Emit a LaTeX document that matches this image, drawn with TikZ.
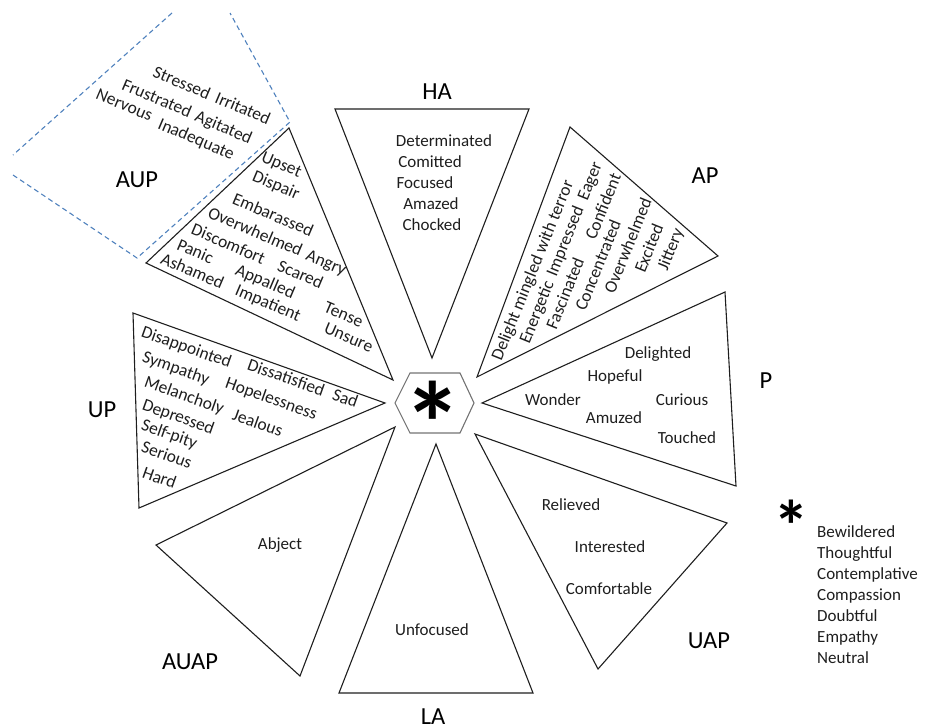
\documentclass[tikz,border=0pt]{standalone}
\usepackage{fontspec}
\setmainfont{Carlito}
\definecolor{dashblue}{RGB}{79,129,189}
\definecolor{ink}{RGB}{30,30,30}
\begin{document}
\begin{tikzpicture}[x=1pt,y=-1pt,
  tri/.style={draw=ink, line width=1.1pt, line join=miter},
  hexa/.style={draw=black!55, line width=1.1pt},
  dsh/.style={draw=dashblue, line width=1.1pt, dash pattern=on 5pt off 3.5pt},
  w/.style={font=\fontsize{17}{20}\selectfont, text=ink, inner sep=0pt, text height=11pt, text depth=0pt},
  wr/.style={font=\fontsize{17.5}{21}\selectfont, text=ink, inner sep=0pt, text height=11.3pt, text depth=0pt, anchor=west},
  lab/.style={font=\fontsize{24.5}{28}\selectfont, text=black, inner sep=0pt, text height=15.8pt, text depth=0pt},
  ww/.style={w, anchor=west},
  r1/.style={wr, rotate=-23},
  r2/.style={wr, rotate=-19.6},
  r3/.style={wr, rotate=68}]
\useasboundingbox (0,0) rectangle (927,728);

% AUP dashed region
\draw[dsh] (172,13) -- (13,155);
\draw[dsh] (13,175) -- (137,258) -- (290,122) -- (230,13);

% triangles
\draw[tri] (335,109) -- (529,109) -- (432,358) -- cycle; % HA
\draw[tri] (570,127) -- (718,256) -- (477,377) -- cycle; % AP
\draw[tri] (482,403) -- (725,292) -- (736,486) -- cycle; % P
\draw[tri] (475,434) -- (727,523) -- (598,669) -- cycle; % UAP
\draw[tri] (436,444) -- (533,693) -- (339,693) -- cycle; % LA
\draw[tri] (395,427) -- (156,545) -- (300,676) -- cycle; % AUAP
\draw[tri] (133,313) -- (385,403) -- (139,508) -- cycle; % UP
\draw[tri] (289,128) -- (393,380) -- (146,263) -- cycle; % AUP

% hexagon
\draw[hexa] (395,403) -- (410,373) -- (460,373) -- (474,403) -- (460,433) -- (410,433) -- cycle;
\node[inner sep=0pt, anchor=north, font=\fontsize{118}{118}\selectfont\bfseries] (star) at (432.5,381) {*};

% labels
\node[lab] (ha) at (437,92) {HA};
\node[lab] (ap) at (705,176) {AP};
\node[lab] (p) at (766,381) {P};
\node[lab] (uap) at (709,641) {UAP};
\node[lab] (la) at (433,717) {LA};
\node[lab] (auap) at (190,662) {AUAP};
\node[lab] (up) at (102,410) {UP};
\node[lab] (aup) at (137,180) {AUP};

% HA words
\node[w] (ha1) at (444,141) {Determinated};
\node[w] (ha2) at (430,162) {Comitted};
\node[w] (ha3) at (425,183) {Focused};
\node[w] (ha4) at (431,204) {Amazed};
\node[w] (ha5) at (432,225) {Chocked};

% AP words
\node[r3] (ap1) at (496,360) {Delight mingled with terror};
\node[r3] (ap2) at (524,343) {Energetic};
\node[r3] (ap3) at (551,275.5) {Impressed};
\node[r3] (ap4) at (582,199.5) {Eager};
\node[r3] (ap5) at (551,328.5) {Fascinated};
\node[r3] (ap6) at (590,239) {Confident};
\node[r3] (ap7) at (580,310) {Concentrated};
\node[r3] (ap8) at (609,292.5) {Overwhelmed};
\node[r3] (ap9) at (639.5,272) {Excited};
\node[r3] (ap10) at (662,269.5) {Jittery};

% P words
\node[w] (p1) at (658,353) {Delighted};
\node[w] (p2) at (615,376) {Hopeful};
\node[w] (p3) at (553,400) {Wonder};
\node[w] (p4) at (682,400) {Curious};
\node[w] (p5) at (614,418) {Amuzed};
\node[w] (p6) at (687,438) {Touched};

% UAP words
\node[w] (u1) at (571,505) {Relieved};
\node[w] (u2) at (610,547) {Interested};
\node[w] (u3) at (609,589) {Comfortable};

% LA, AUAP
\node[w] (la1) at (432,630) {Unfocused};
\node[w] (auap1) at (280,544) {Abject};

% UP words
\node[r2] (up1) at (142,331) {Disappointed};
\node[r2] (up2) at (248,364) {Dissatisfied};
\node[r2] (up3) at (333,394) {Sad};
\node[r2] (up4) at (143,356) {Sympathy};
\node[r2] (up5) at (226,382) {Hopelessness};
\node[r2] (up6) at (145,381) {Melancholy};
\node[r2] (up7) at (233,414) {Jealous};
\node[r2] (up8) at (143,404) {Depressed};
\node[r2] (up9) at (142,424) {Self-pity};
\node[r2] (up10) at (142,446) {Serious};
\node[r2] (up11) at (143,472) {Hard};

% AUP triangle words
\node[r1] (a1) at (262.4,156) {Upset};
\node[r1] (a2) at (253.4,175) {Dispair};
\node[r1] (a3) at (233.3,198) {Embarassed};
\node[r1] (a4) at (208.9,212) {Overwhelmed};
\node[r1] (a5) at (307,254) {Angry};
\node[r1] (a6) at (192.2,228.5) {Discomfort};
\node[r1] (a7) at (278.5,265) {Scared};
\node[r1] (a8) at (177.8,244) {Panic};
\node[r1] (a9) at (236.3,269) {Appalled};
\node[r1] (a10) at (324.9,306.5) {Tense};
\node[r1] (a11) at (161.6,257.8) {Ashamed};
\node[r1] (a12) at (236.1,289.5) {Impatient};
\node[r1] (a13) at (325.1,327.2) {Unsure};

% AUP dashed words
\node[r1] (d1) at (154,71) {Stressed};
\node[r1] (d2) at (216,97) {Irritated};
\node[r1] (d3) at (123,84) {Frustrated};
\node[r1] (d4) at (196,115.5) {Agitated};
\node[r1] (d5) at (97,93) {Nervous};
\node[r1] (d6) at (159,123) {Inadequate};

% legend
\node[inner sep=0pt, anchor=north, font=\fontsize{72}{72}\selectfont\bfseries] (lstar) at (791,500) {*};
\node[ww] (l1) at (817,532) {Bewildered};
\node[ww] (l2) at (817,553) {Thoughtful};
\node[ww] (l3) at (817,574) {Contemplative};
\node[ww] (l4) at (817,595) {Compassion};
\node[ww] (l5) at (817,616) {Doubtful};
\node[ww] (l6) at (817,637) {Empathy};
\node[ww] (l7) at (817,658) {Neutral};
\end{tikzpicture}
\end{document}
